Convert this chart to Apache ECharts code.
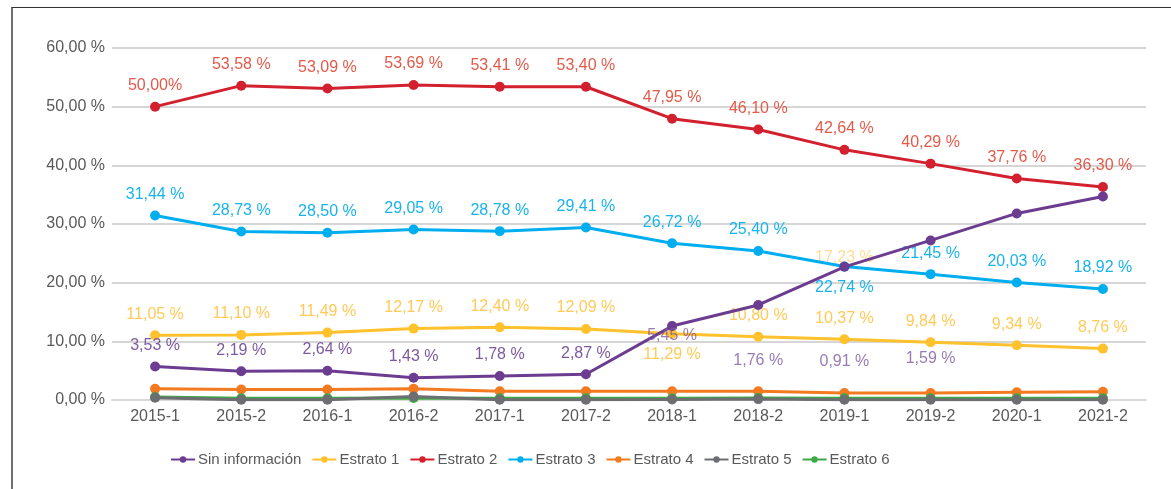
<!DOCTYPE html>
<html>
<head>
<meta charset="utf-8">
<script src="https://cdn.jsdelivr.net/npm/echarts@6/dist/echarts.min.js"></script>
<style>
  html, body { margin: 0; padding: 0; background: #fff; }
  #frame { position: absolute; left: 11px; top: 7px; width: 1160px; height: 482px;
           border-left: 2px solid #6e6e6e; border-top: 1px solid #333; }
  #chart { position: absolute; left: 0; top: 0; width: 1171px; height: 489px; }
</style>
</head>
<body>
<div id="frame"></div>
<div id="chart"></div>
<script>
const categories = ['2015-1', '2015-2', '2016-1', '2016-2', '2017-1', '2017-2',
  '2018-1', '2018-2', '2019-1', '2019-2', '2020-1', '2021-2'];

const sinInfo = [5.7, 4.9, 5.0, 3.8, 4.1, 4.4, 12.6, 16.2, 22.7, 27.2, 31.8, 34.7];
const estrato1 = [11.05, 11.10, 11.49, 12.17, 12.40, 12.09, 11.29, 10.80, 10.37, 9.84, 9.34, 8.76];
const estrato2 = [50.00, 53.58, 53.09, 53.69, 53.41, 53.40, 47.95, 46.10, 42.64, 40.29, 37.76, 36.30];
const estrato3 = [31.44, 28.73, 28.50, 29.05, 28.78, 29.41, 26.72, 25.40, 22.74, 21.45, 20.03, 18.92];
const estrato4 = [1.9, 1.8, 1.8, 1.9, 1.5, 1.5, 1.5, 1.5, 1.2, 1.2, 1.3, 1.4];
const estrato5 = [0.4, 0.05, 0.05, 0.6, 0.05, 0.05, 0.1, 0.15, 0.05, 0.05, 0.05, 0.05];
const estrato6 = [0.5, 0.3, 0.3, 0.35, 0.3, 0.3, 0.3, 0.35, 0.3, 0.3, 0.3, 0.3];

// label texts as printed in the source (some don't match their point)
const sinInfoLabels = ['3,53 %', '2,19 %', '2,64 %', '1,43 %', '1,78 %', '2,87 %', '5,45 %', '1,76 %', '0,91 %', '1,59 %', '', ''];
const sinInfoLabelAt = [null, null, null, null, null, null, 10.9, 6.8, 6.5, 7.1, null, null];
const estrato1Labels = ['11,05 %', '11,10 %', '11,49 %', '12,17 %', '12,40 %', '12,09 %', '11,29 %', '10,80 %', '10,37 %', '9,84 %', '9,34 %', '8,76 %'];
const estrato2Labels = ['50,00%', '53,58 %', '53,09 %', '53,69 %', '53,41 %', '53,40 %', '47,95 %', '46,10 %', '42,64 %', '40,29 %', '37,76 %', '36,30 %'];
const estrato3Labels = ['31,44 %', '28,73 %', '28,50 %', '29,05 %', '28,78 %', '29,41 %', '26,72 %', '25,40 %', '22,74 %', '21,45 %', '20,03 %', '18,92 %'];
const strayLabel = { cat: '2019-1', at: 24.2, text: '17,23 %' };

const yTicks = [0, 10, 20, 30, 40, 50, 60];

const FONT = '"Liberation Sans", Arial, sans-serif';

const chart = echarts.init(document.getElementById('chart'));

function lineSeries(name, values, color, labels, labelColor, below, z) {
  return {
    name: name,
    type: 'line',
    z: z,
    data: values.map((v, i) => {
      const item = { value: v };
      if (below && below.indexOf(i) >= 0) {
        item.label = { position: 'bottom', distance: 8 };
      }
      return item;
    }),
    symbol: 'circle',
    symbolSize: 10,
    lineStyle: { color: color, width: 3 },
    itemStyle: { color: color },
    label: {
      show: !!labels,
      position: 'top',
      distance: 8,
      color: labelColor,
      fontFamily: FONT,
      fontSize: 16,
      formatter: p => labels ? labels[p.dataIndex] : ''
    },
    emphasis: { disabled: true },
    animation: false
  };
}

const purple = lineSeries('Sin información', sinInfo, '#6b3c90', sinInfoLabels, '#7d5aa0', null, 8);
purple.label.formatter = p => p.dataIndex < 6 ? sinInfoLabels[p.dataIndex] : '';

const series = [
  purple,
  lineSeries('Estrato 1', estrato1, '#ffc12c', estrato1Labels, '#ffca57', [6], 5),
  lineSeries('Estrato 2', estrato2, '#d2202e', estrato2Labels, '#e35a4b', null, 6),
  lineSeries('Estrato 3', estrato3, '#00aeef', estrato3Labels, '#19b3ec', [8], 7),
  lineSeries('Estrato 4', estrato4, '#f47a20', null, null, null, 2),
  lineSeries('Estrato 5', estrato5, '#6d6e71', null, null, null, 4),
  lineSeries('Estrato 6', estrato6, '#3da946', null, null, null, 3),
  {
    type: 'scatter',
    z: 9,
    symbolSize: 0,
    silent: true,
    data: sinInfoLabelAt.map((v, i) => v == null ? null : { value: [categories[i], v], text: sinInfoLabels[i] }).filter(d => d),
    label: {
      show: true, position: 'inside', color: '#7d5aa0', fontFamily: FONT, fontSize: 16,
      formatter: p => p.data.text
    },
    animation: false
  },
  {
    type: 'scatter',
    z: 4,
    symbolSize: 0,
    silent: true,
    data: [{ value: [strayLabel.cat, strayLabel.at], text: strayLabel.text }],
    label: {
      show: true, position: 'inside', color: 'rgba(255,200,90,0.8)', fontFamily: FONT, fontSize: 16,
      formatter: p => p.data.text
    },
    animation: false
  }
];

chart.setOption({
  animation: false,
  grid: { left: 112, right: 25, top: 48, bottom: 89 },
  legend: {
    data: ['Sin información', 'Estrato 1', 'Estrato 2', 'Estrato 3', 'Estrato 4', 'Estrato 5', 'Estrato 6'],
    left: 165,
    top: 447,
    itemWidth: 24,
    itemHeight: 8,
    itemGap: 10,
    textStyle: { color: '#595959', fontFamily: FONT, fontSize: 15, padding: [0, 0, 0, -2] },
    selectedMode: false
  },
  xAxis: {
    type: 'category',
    data: categories,
    boundaryGap: true,
    axisLine: { show: true, lineStyle: { color: '#d9d9d9', width: 2 } },
    axisTick: { show: false },
    axisLabel: { color: '#595959', fontFamily: FONT, fontSize: 16, margin: 9 }
  },
  yAxis: {
    type: 'value',
    min: yTicks[0],
    max: yTicks[yTicks.length - 1],
    interval: 10,
    axisLine: { show: false },
    axisTick: { show: false },
    splitLine: { lineStyle: { color: '#c8c8c8', width: 1.5 } },
    axisLabel: {
      color: '#595959', fontFamily: FONT, fontSize: 16, margin: 7,
      formatter: v => v.toFixed(2).replace('.', ',') + ' %'
    }
  },
  series: series
});
</script>
</body>
</html>
